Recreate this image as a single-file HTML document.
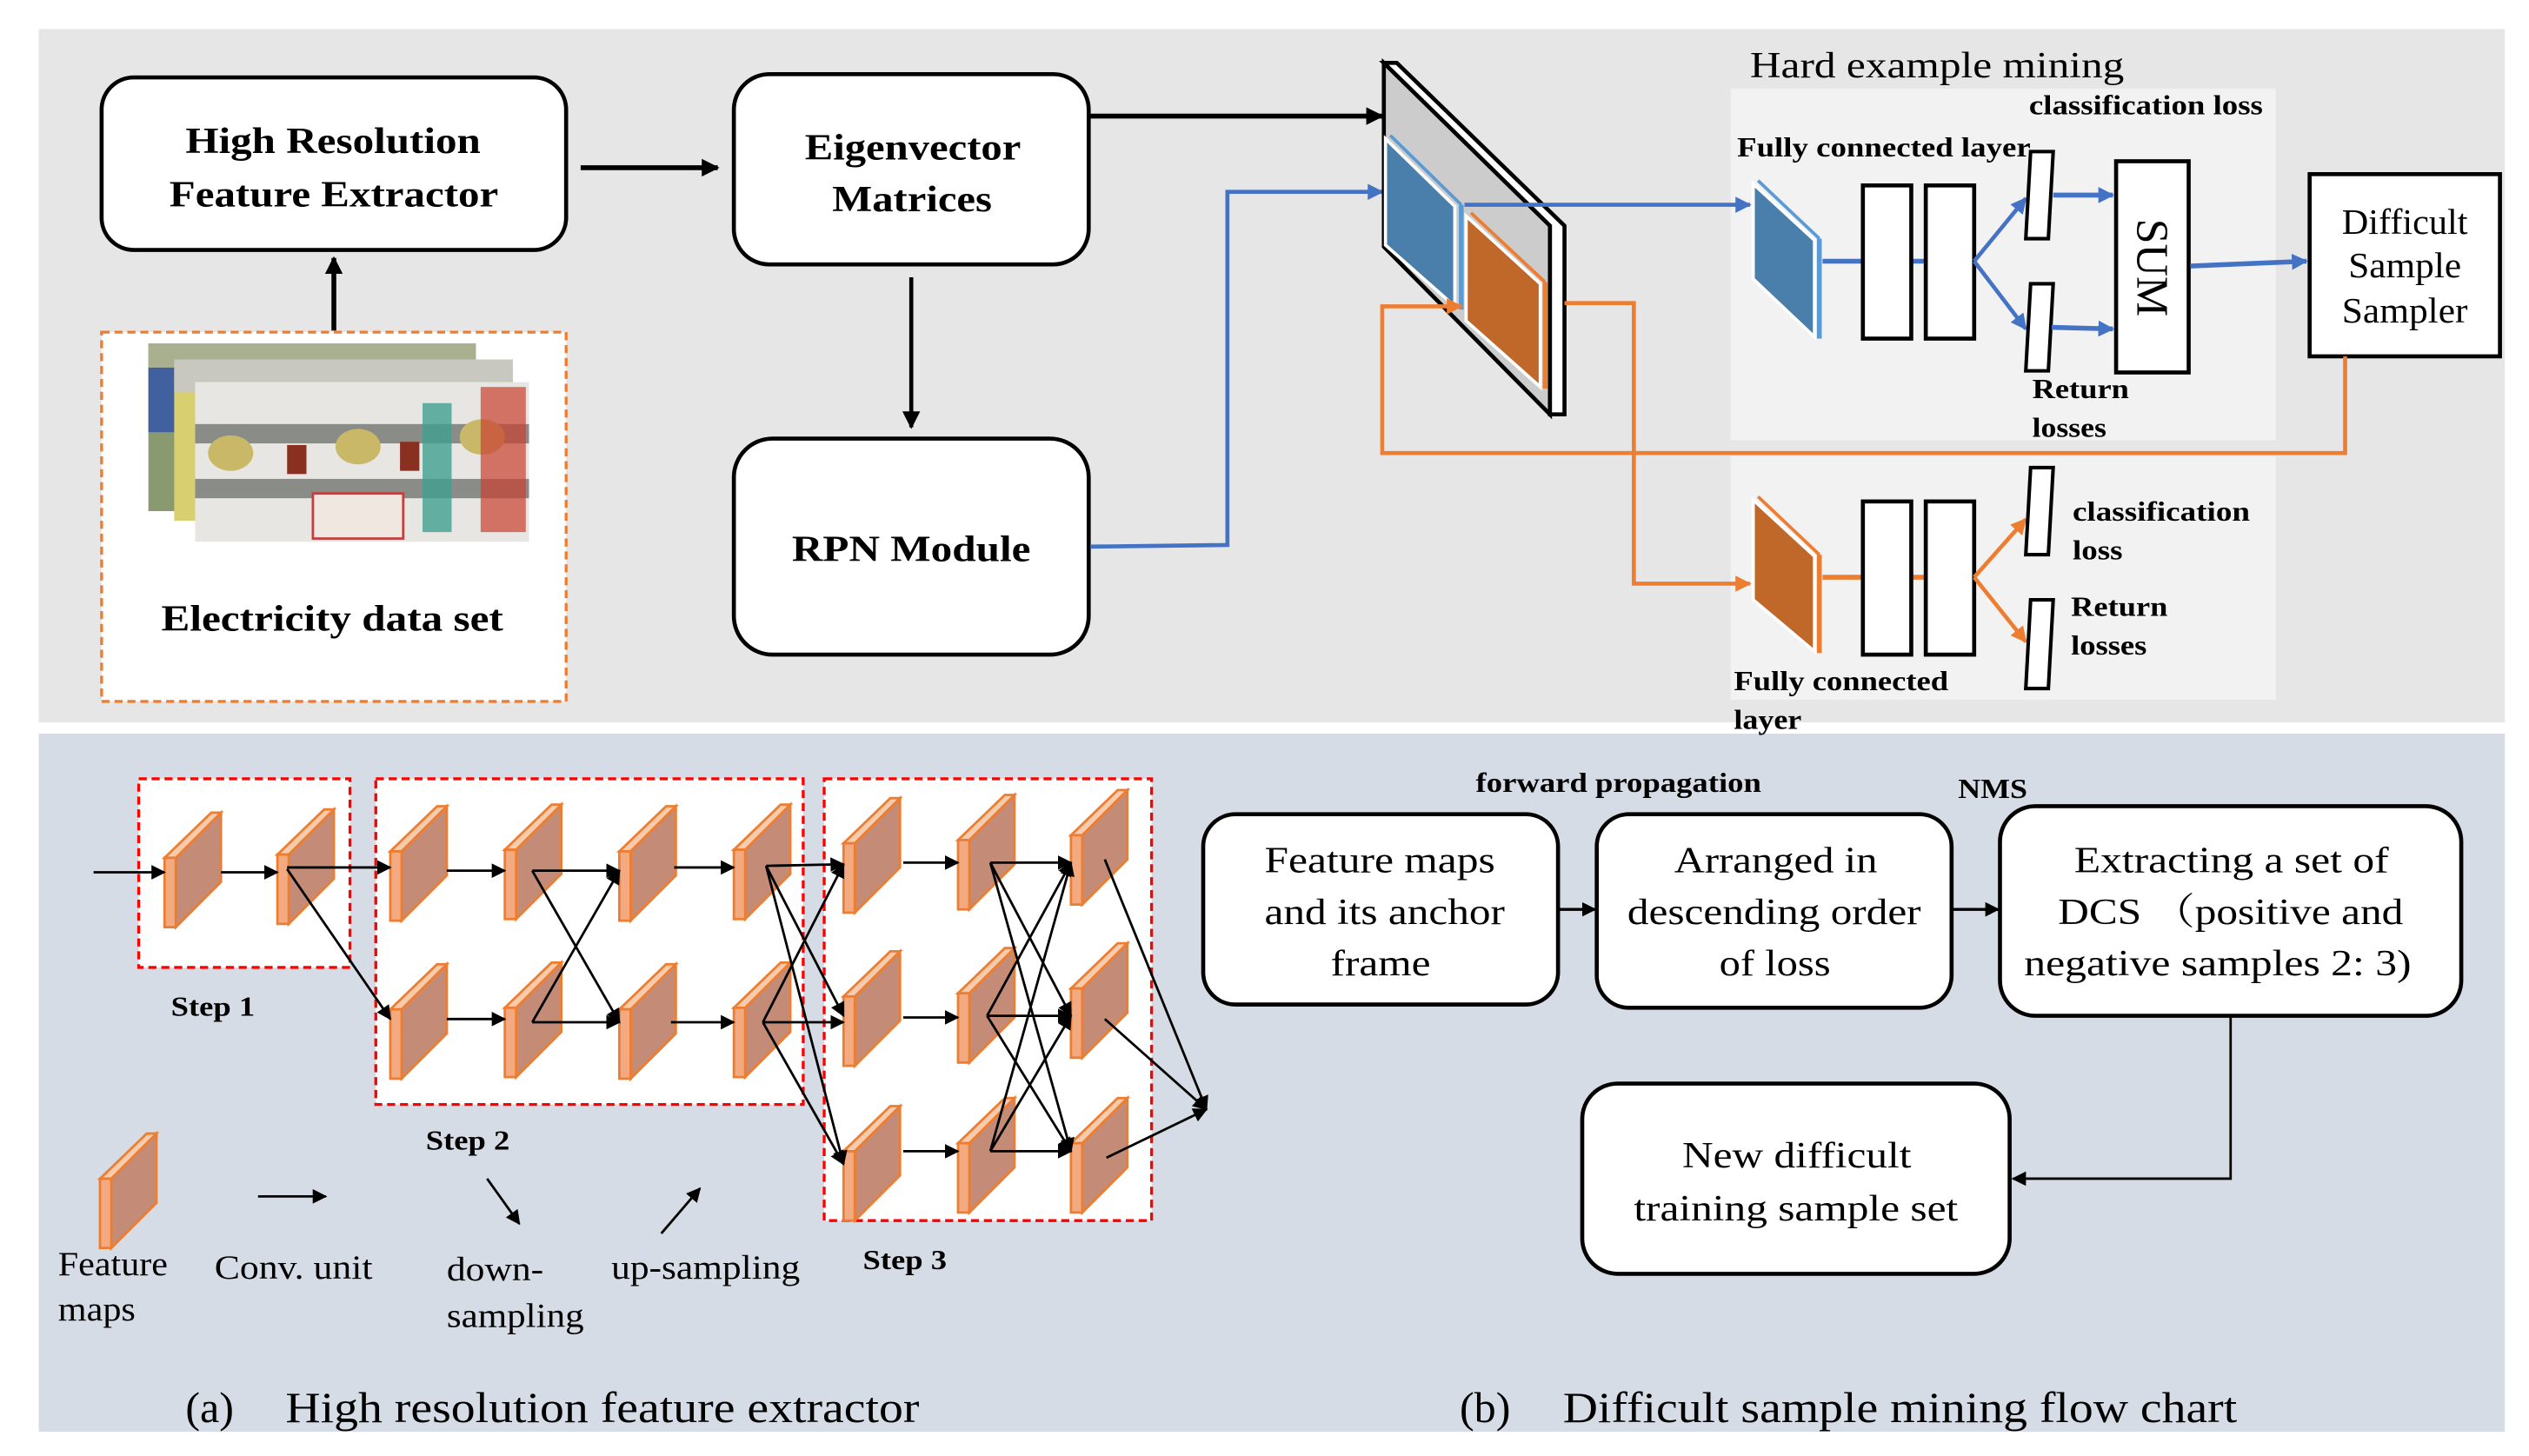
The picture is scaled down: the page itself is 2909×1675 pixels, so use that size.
<!DOCTYPE html>
<html><head><meta charset="utf-8"><style>
html,body{margin:0;padding:0;background:#fff}
svg{display:block}
text{font-family:"Liberation Serif","Noto Serif CJK SC",serif}
.b{font-weight:bold}
</style></head><body>
<svg width="2909" height="1675" viewBox="0 0 1568 903" preserveAspectRatio="none" xmlns="http://www.w3.org/2000/svg">
<defs>
<marker id="akb" viewBox="0 0 10 10" refX="9" refY="5" markerWidth="11" markerHeight="11" orient="auto" markerUnits="userSpaceOnUse"><path d="M0,0L10,5L0,10z" fill="#000"/></marker>
<marker id="ab" viewBox="0 0 10 10" refX="9" refY="5" markerWidth="10" markerHeight="10" orient="auto" markerUnits="userSpaceOnUse"><path d="M0,0L10,5L0,10z" fill="#4472c4"/></marker>
<marker id="ao" viewBox="0 0 10 10" refX="9" refY="5" markerWidth="10" markerHeight="10" orient="auto" markerUnits="userSpaceOnUse"><path d="M0,0L10,5L0,10z" fill="#ed7d31"/></marker>
<marker id="as" viewBox="0 0 10 10" refX="9" refY="5" markerWidth="9" markerHeight="9" orient="auto" markerUnits="userSpaceOnUse"><path d="M0,0L10,5L0,10z" fill="#000"/></marker>
<g id="fm">
<polygon points="7,28 35,0 35,43 7,71" fill="#c48c76" stroke="#ed7d31" stroke-width="1.5"/>
<polygon points="0,28 29,0 35,0 7,28" fill="#f8cbad" stroke="#ed7d31" stroke-width="1.5"/>
<rect x="0" y="28" width="7" height="43" fill="#f4aa80" stroke="#ed7d31" stroke-width="1.5"/>
</g>
</defs>

<rect x="24" y="18" width="1529" height="430" fill="#e6e6e6"/>
<rect x="24" y="455" width="1529" height="433" fill="#d6dce5"/>

<rect x="63" y="48" width="288" height="107" rx="20" fill="#fff" stroke="#000" stroke-width="2.5"/>
<text class="b" x="115" y="95" font-size="23" textLength="183" lengthAdjust="spacingAndGlyphs">High Resolution</text>
<text class="b" x="105" y="128" font-size="23" textLength="204" lengthAdjust="spacingAndGlyphs">Feature Extractor</text>
<line x1="360" y1="104" x2="445" y2="104" stroke="#000" stroke-width="3" marker-end="url(#akb)"/>
<rect x="455" y="46" width="220" height="118" rx="22" fill="#fff" stroke="#000" stroke-width="2.5"/>
<text class="b" x="499" y="99" font-size="23" textLength="134" lengthAdjust="spacingAndGlyphs">Eigenvector</text>
<text class="b" x="516" y="131" font-size="23" textLength="99" lengthAdjust="spacingAndGlyphs">Matrices</text>
<line x1="565" y1="172" x2="565" y2="265" stroke="#000" stroke-width="2.5" marker-end="url(#akb)"/>
<rect x="455" y="272" width="220" height="134" rx="24" fill="#fff" stroke="#000" stroke-width="2.5"/>
<text class="b" x="491" y="348" font-size="23" textLength="148" lengthAdjust="spacingAndGlyphs">RPN Module</text>

<rect x="63" y="206" width="288" height="229" fill="#fff" stroke="#ed7d31" stroke-width="1.8" stroke-dasharray="5,3"/>
<line x1="207" y1="205" x2="207" y2="160" stroke="#000" stroke-width="3" marker-end="url(#akb)"/>
<rect x="92" y="213" width="203" height="104" fill="#8a9a70"/>
<rect x="92" y="213" width="203" height="18" fill="#a8b090"/>
<rect x="92" y="228" width="20" height="40" fill="#4060a0"/>
<rect x="108" y="223" width="210" height="100" fill="#d8d070"/>
<rect x="108" y="223" width="210" height="20" fill="#c8c8c0"/>
<rect x="121" y="237" width="207" height="99" fill="#e8e6e2"/>
<rect x="121" y="263" width="207" height="12" fill="#8a8c88"/>
<rect x="121" y="297" width="207" height="12" fill="#8a8c88"/>
<ellipse cx="143" cy="281" rx="14" ry="11" fill="#c8b868"/>
<ellipse cx="222" cy="277" rx="14" ry="11" fill="#c8b868"/>
<ellipse cx="299" cy="271" rx="14" ry="11" fill="#c8b868"/>
<rect x="178" y="276" width="12" height="18" fill="#8a3020"/>
<rect x="248" y="274" width="12" height="18" fill="#8a3020"/>
<rect x="298" y="240" width="28" height="90" fill="#c84030" opacity="0.7"/>
<rect x="262" y="250" width="18" height="80" fill="#40a090" opacity="0.8"/>
<rect x="194" y="306" width="56" height="28" fill="#f0e8e0" stroke="#c04040" stroke-width="1.5"/>
<text class="b" x="100" y="391" font-size="23" textLength="212" lengthAdjust="spacingAndGlyphs">Electricity data set</text>

<line x1="676" y1="72" x2="857" y2="72" stroke="#000" stroke-width="3" marker-end="url(#akb)"/>
<polyline points="676,339 761,338 761,119 857,119" fill="none" stroke="#4472c4" stroke-width="2.5" marker-end="url(#ab)"/>

<polygon points="858,39 961,140 961,257 858,153" fill="#cccccc" stroke="#000" stroke-width="2.5"/>
<polygon points="858,39 866,39 970,140 970,257 961,257 961,140" fill="#fff" stroke="#000" stroke-width="2.5"/>
<polygon points="859,86 902,128 902,190 859,152" fill="#4a7eab" stroke="#fff" stroke-width="2"/>
<line x1="862" y1="84" x2="906" y2="127" stroke="#5b9bd5" stroke-width="2"/>
<line x1="906" y1="127" x2="906" y2="192" stroke="#5b9bd5" stroke-width="3"/>
<polygon points="909,134 955,176 955,240 909,199" fill="#c0672a" stroke="#fff" stroke-width="2"/>
<line x1="912" y1="132" x2="958" y2="175" stroke="#ed7d31" stroke-width="2"/>
<line x1="958" y1="175" x2="958" y2="241" stroke="#ed7d31" stroke-width="3"/>

<rect x="1073" y="55" width="338" height="218" fill="#f2f2f2"/>
<rect x="1073" y="283" width="338" height="151" fill="#f2f2f2"/>
<text x="1085" y="48" font-size="23" textLength="232" lengthAdjust="spacingAndGlyphs">Hard example mining</text>
<text class="b" x="1258" y="71" font-size="17" textLength="145" lengthAdjust="spacingAndGlyphs">classification loss</text>
<text class="b" x="1077" y="97" font-size="17" textLength="182" lengthAdjust="spacingAndGlyphs">Fully connected layer</text>

<line x1="908" y1="127" x2="1085" y2="127" stroke="#4472c4" stroke-width="2.5" marker-end="url(#ab)"/>
<polygon points="1087,114 1125,149 1125,209 1087,173" fill="#4a7eab" stroke="#fff" stroke-width="2"/>
<line x1="1090" y1="112" x2="1128" y2="148" stroke="#5b9bd5" stroke-width="2"/>
<line x1="1128" y1="148" x2="1128" y2="210" stroke="#5b9bd5" stroke-width="3"/>
<line x1="1130" y1="162" x2="1155" y2="162" stroke="#4472c4" stroke-width="3"/>
<line x1="1185" y1="162" x2="1194" y2="162" stroke="#4472c4" stroke-width="3"/>
<rect x="1155" y="115" width="30" height="95" fill="#fff" stroke="#000" stroke-width="2.5"/>
<rect x="1194" y="115" width="30" height="95" fill="#fff" stroke="#000" stroke-width="2.5"/>
<line x1="1224" y1="162" x2="1256" y2="123" stroke="#4472c4" stroke-width="2.5" marker-end="url(#ab)"/>
<line x1="1224" y1="162" x2="1256" y2="204" stroke="#4472c4" stroke-width="2.5" marker-end="url(#ab)"/>
<polygon points="1259,94 1273,94 1270,148 1256,148" fill="#fff" stroke="#000" stroke-width="2.2"/>
<polygon points="1259,176 1273,176 1270,230 1256,230" fill="#fff" stroke="#000" stroke-width="2.2"/>
<line x1="1273" y1="121" x2="1310" y2="121" stroke="#4472c4" stroke-width="3" marker-end="url(#ab)"/>
<line x1="1272" y1="203" x2="1310" y2="204" stroke="#4472c4" stroke-width="3" marker-end="url(#ab)"/>
<rect x="1312" y="100" width="45" height="131" fill="#fff" stroke="#000" stroke-width="2.5"/>
<text x="1334" y="166" font-size="28" text-anchor="middle" dominant-baseline="central" transform="rotate(90 1334 166)">SUM</text>
<line x1="1358" y1="165" x2="1430" y2="162" stroke="#4472c4" stroke-width="3" marker-end="url(#ab)"/>
<rect x="1432" y="108" width="118" height="113" fill="#fff" stroke="#000" stroke-width="2.5"/>
<text x="1452" y="145" font-size="22" textLength="78" lengthAdjust="spacingAndGlyphs">Difficult</text>
<text x="1456" y="172" font-size="22" textLength="70" lengthAdjust="spacingAndGlyphs">Sample</text>
<text x="1452" y="200" font-size="22" textLength="78" lengthAdjust="spacingAndGlyphs">Sampler</text>
<text class="b" x="1260" y="247" font-size="17" textLength="60" lengthAdjust="spacingAndGlyphs">Return</text>
<text class="b" x="1260" y="271" font-size="17" textLength="46" lengthAdjust="spacingAndGlyphs">losses</text>

<polyline points="1454,221 1454,281 857,281 857,190 906,190" fill="none" stroke="#ed7d31" stroke-width="2.5" marker-end="url(#ao)"/>
<polyline points="970,188 1013,188 1013,362 1085,362" fill="none" stroke="#ed7d31" stroke-width="2.5" marker-end="url(#ao)"/>

<polygon points="1087,310 1125,345 1125,404 1087,372" fill="#c0672a" stroke="#fff" stroke-width="2"/>
<line x1="1090" y1="308" x2="1128" y2="344" stroke="#ed7d31" stroke-width="2"/>
<line x1="1128" y1="344" x2="1128" y2="405" stroke="#ed7d31" stroke-width="3"/>
<line x1="1130" y1="358" x2="1155" y2="358" stroke="#ed7d31" stroke-width="3"/>
<line x1="1185" y1="358" x2="1194" y2="358" stroke="#ed7d31" stroke-width="3"/>
<rect x="1155" y="311" width="30" height="95" fill="#fff" stroke="#000" stroke-width="2.5"/>
<rect x="1194" y="311" width="30" height="95" fill="#fff" stroke="#000" stroke-width="2.5"/>
<line x1="1224" y1="358" x2="1256" y2="322" stroke="#ed7d31" stroke-width="2.5" marker-end="url(#ao)"/>
<line x1="1224" y1="358" x2="1256" y2="398" stroke="#ed7d31" stroke-width="2.5" marker-end="url(#ao)"/>
<polygon points="1259,290 1273,290 1270,344 1256,344" fill="#fff" stroke="#000" stroke-width="2.2"/>
<polygon points="1259,372 1273,372 1270,427 1256,427" fill="#fff" stroke="#000" stroke-width="2.2"/>
<text class="b" x="1285" y="323" font-size="17" textLength="110" lengthAdjust="spacingAndGlyphs">classification</text>
<text class="b" x="1285" y="347" font-size="17" textLength="31" lengthAdjust="spacingAndGlyphs">loss</text>
<text class="b" x="1284" y="382" font-size="17" textLength="60" lengthAdjust="spacingAndGlyphs">Return</text>
<text class="b" x="1284" y="406" font-size="17" textLength="47" lengthAdjust="spacingAndGlyphs">losses</text>
<text class="b" x="1075" y="428" font-size="17" textLength="133" lengthAdjust="spacingAndGlyphs">Fully connected</text>
<text class="b" x="1075" y="452" font-size="17" textLength="42" lengthAdjust="spacingAndGlyphs">layer</text>

<rect x="86" y="483" width="131" height="117" fill="#fff" stroke="#f00" stroke-width="1.8" stroke-dasharray="5,3"/>
<rect x="233" y="483" width="265" height="202" fill="#fff" stroke="#f00" stroke-width="1.8" stroke-dasharray="5,3"/>
<rect x="511" y="483" width="203" height="274" fill="#fff" stroke="#f00" stroke-width="1.8" stroke-dasharray="5,3"/>

<use href="#fm" x="102" y="504"/>
<use href="#fm" x="172" y="502"/>
<use href="#fm" x="242" y="500"/><use href="#fm" x="313" y="499"/><use href="#fm" x="384" y="500"/><use href="#fm" x="455" y="499"/>
<use href="#fm" x="242" y="598"/><use href="#fm" x="313" y="597"/><use href="#fm" x="384" y="598"/><use href="#fm" x="455" y="597"/>
<use href="#fm" x="523" y="495"/><use href="#fm" x="594" y="493"/><use href="#fm" x="664" y="490"/>
<use href="#fm" x="523" y="590"/><use href="#fm" x="594" y="588"/><use href="#fm" x="664" y="585"/>
<use href="#fm" x="523" y="686"/><use href="#fm" x="594" y="681"/><use href="#fm" x="664" y="681"/>
<use href="#fm" x="62" y="703"/>

<g stroke="#000" stroke-width="1.5" fill="none">
<line x1="58" y1="541" x2="102" y2="541" marker-end="url(#as)"/>
<line x1="137" y1="541" x2="172" y2="541" marker-end="url(#as)"/>
<line x1="178" y1="538" x2="242" y2="538" marker-end="url(#as)"/>
<line x1="178" y1="539" x2="242" y2="632" marker-end="url(#as)"/>
<line x1="277" y1="540" x2="313" y2="540" marker-end="url(#as)"/>
<line x1="277" y1="632" x2="313" y2="632" marker-end="url(#as)"/>
<line x1="330" y1="540" x2="384" y2="540" marker-end="url(#as)"/>
<line x1="330" y1="540" x2="384" y2="634" marker-end="url(#as)"/>
<line x1="330" y1="634" x2="384" y2="634" marker-end="url(#as)"/>
<line x1="330" y1="634" x2="384" y2="540" marker-end="url(#as)"/>
<line x1="418" y1="538" x2="455" y2="538" marker-end="url(#as)"/>
<line x1="416" y1="634" x2="455" y2="634" marker-end="url(#as)"/>
<line x1="475" y1="537" x2="523" y2="536" marker-end="url(#as)"/>
<line x1="475" y1="537" x2="523" y2="630" marker-end="url(#as)"/>
<line x1="475" y1="537" x2="523" y2="722" marker-end="url(#as)"/>
<line x1="473" y1="634" x2="523" y2="536" marker-end="url(#as)"/>
<line x1="473" y1="634" x2="523" y2="634" marker-end="url(#as)"/>
<line x1="473" y1="634" x2="523" y2="722" marker-end="url(#as)"/>
<line x1="560" y1="535" x2="594" y2="535" marker-end="url(#as)"/>
<line x1="560" y1="631" x2="594" y2="631" marker-end="url(#as)"/>
<line x1="560" y1="714" x2="594" y2="714" marker-end="url(#as)"/>
<line x1="614" y1="535" x2="664" y2="535" marker-end="url(#as)"/>
<line x1="614" y1="535" x2="664" y2="630" marker-end="url(#as)"/>
<line x1="614" y1="535" x2="664" y2="714" marker-end="url(#as)"/>
<line x1="612" y1="630" x2="664" y2="535" marker-end="url(#as)"/>
<line x1="612" y1="630" x2="664" y2="630" marker-end="url(#as)"/>
<line x1="612" y1="630" x2="664" y2="714" marker-end="url(#as)"/>
<line x1="614" y1="714" x2="664" y2="535" marker-end="url(#as)"/>
<line x1="614" y1="714" x2="664" y2="630" marker-end="url(#as)"/>
<line x1="614" y1="714" x2="664" y2="714" marker-end="url(#as)"/>
<line x1="685" y1="533" x2="748" y2="688" marker-end="url(#as)"/>
<line x1="685" y1="632" x2="748" y2="688" marker-end="url(#as)"/>
<line x1="686" y1="718" x2="748" y2="688" marker-end="url(#as)"/>
<line x1="160" y1="742" x2="202" y2="742" marker-end="url(#as)"/>
<line x1="302" y1="731" x2="322" y2="759" marker-end="url(#as)"/>
<line x1="410" y1="765" x2="434" y2="737" marker-end="url(#as)"/>
</g>
<text class="b" x="106" y="630" font-size="17" textLength="52" lengthAdjust="spacingAndGlyphs">Step 1</text>
<text class="b" x="264" y="713" font-size="17" textLength="52" lengthAdjust="spacingAndGlyphs">Step 2</text>
<text class="b" x="535" y="787" font-size="17" textLength="52" lengthAdjust="spacingAndGlyphs">Step 3</text>
<text x="36" y="791" font-size="21" textLength="68" lengthAdjust="spacingAndGlyphs">Feature</text>
<text x="36" y="819" font-size="21" textLength="48" lengthAdjust="spacingAndGlyphs">maps</text>
<text x="133" y="793" font-size="21" textLength="98" lengthAdjust="spacingAndGlyphs">Conv. unit</text>
<text x="277" y="794" font-size="21" textLength="60" lengthAdjust="spacingAndGlyphs">down-</text>
<text x="277" y="823" font-size="21" textLength="85" lengthAdjust="spacingAndGlyphs">sampling</text>
<text x="379" y="793" font-size="21" textLength="117" lengthAdjust="spacingAndGlyphs">up-sampling</text>
<text x="115" y="882" font-size="27">(a)</text>
<text x="177" y="882" font-size="27" textLength="393" lengthAdjust="spacingAndGlyphs">High resolution feature extractor</text>
<text x="905" y="882" font-size="27">(b)</text>
<text x="969" y="882" font-size="27" textLength="418" lengthAdjust="spacingAndGlyphs">Difficult sample mining flow chart</text>

<text class="b" x="915" y="491" font-size="17" textLength="177" lengthAdjust="spacingAndGlyphs">forward propagation</text>
<text class="b" x="1214" y="495" font-size="17" textLength="43" lengthAdjust="spacingAndGlyphs">NMS</text>
<rect x="746" y="505" width="220" height="118" rx="20" fill="#fff" stroke="#000" stroke-width="2.5"/>
<text x="784" y="541" font-size="23" textLength="143" lengthAdjust="spacingAndGlyphs">Feature maps</text>
<text x="784" y="573" font-size="23" textLength="149" lengthAdjust="spacingAndGlyphs">and its anchor</text>
<text x="825" y="605" font-size="23" textLength="62" lengthAdjust="spacingAndGlyphs">frame</text>
<rect x="990" y="505" width="220" height="120" rx="20" fill="#fff" stroke="#000" stroke-width="2.5"/>
<text x="1038" y="541" font-size="23" textLength="126" lengthAdjust="spacingAndGlyphs">Arranged in</text>
<text x="1009" y="573" font-size="23" textLength="182" lengthAdjust="spacingAndGlyphs">descending order</text>
<text x="1066" y="605" font-size="23" textLength="69" lengthAdjust="spacingAndGlyphs">of loss</text>
<rect x="1240" y="500" width="286" height="130" rx="22" fill="#fff" stroke="#000" stroke-width="2.5"/>
<text x="1286" y="541" font-size="23" textLength="195" lengthAdjust="spacingAndGlyphs">Extracting a set of</text>
<text x="1276" y="573" font-size="23" textLength="214" lengthAdjust="spacingAndGlyphs">DCS （positive and</text>
<text x="1255" y="605" font-size="23" textLength="240" lengthAdjust="spacingAndGlyphs">negative samples 2: 3)</text>
<rect x="981" y="672" width="265" height="118" rx="22" fill="#fff" stroke="#000" stroke-width="2.5"/>
<text x="1043" y="724" font-size="23" textLength="142" lengthAdjust="spacingAndGlyphs">New difficult</text>
<text x="1013" y="757" font-size="23" textLength="201" lengthAdjust="spacingAndGlyphs">training sample set</text>
<line x1="966" y1="564" x2="989" y2="564" stroke="#000" stroke-width="1.8" marker-end="url(#as)"/>
<line x1="1210" y1="564" x2="1239" y2="564" stroke="#000" stroke-width="1.8" marker-end="url(#as)"/>
<polyline points="1383,631 1383,731 1248,731" fill="none" stroke="#000" stroke-width="1.5" marker-end="url(#as)"/>
</svg>
</body></html>
